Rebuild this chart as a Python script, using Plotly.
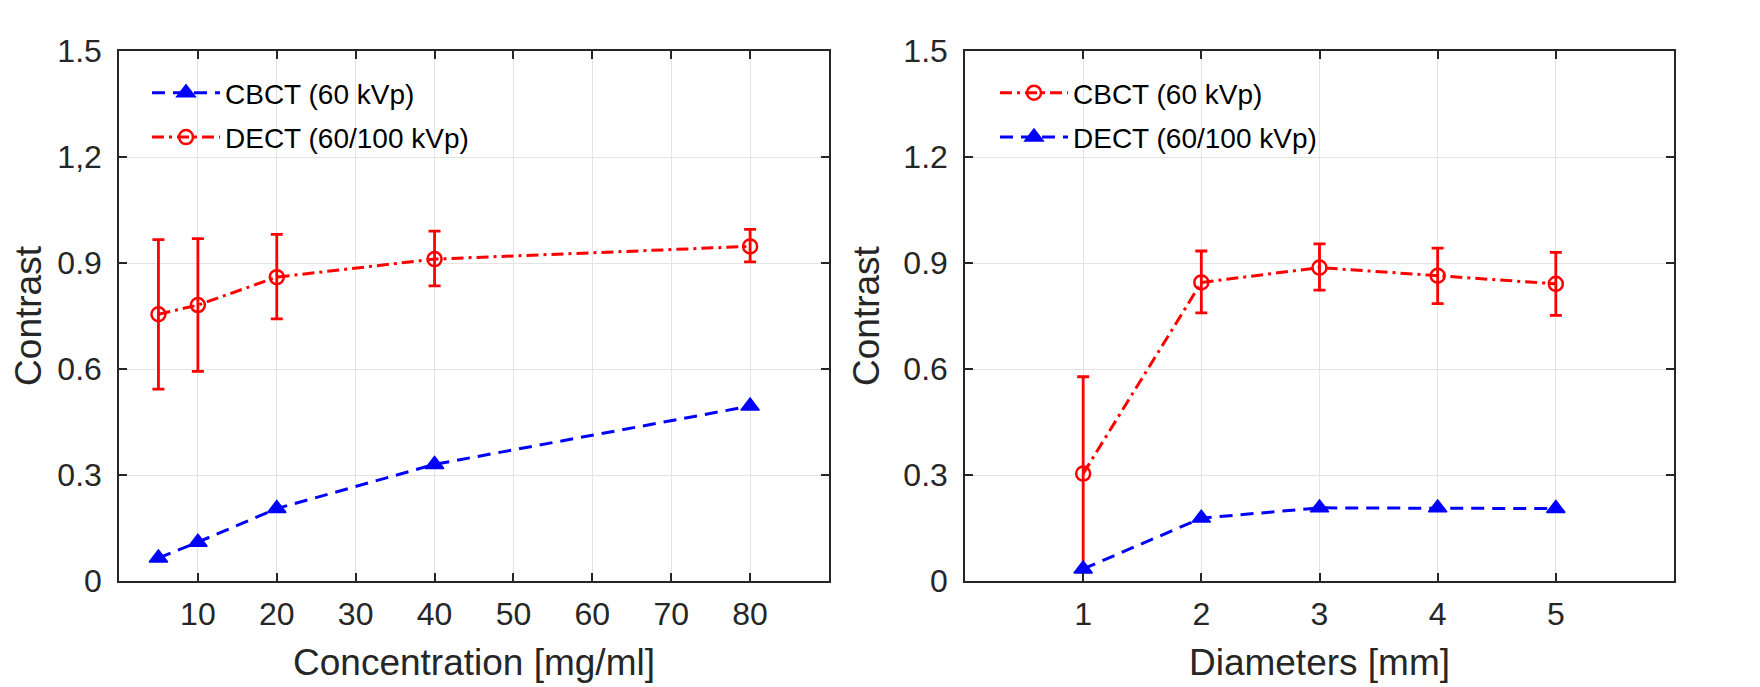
import plotly.graph_objects as go

# ---- data ----
conc = [5, 10, 20, 40, 80]
conc_cbct = [0.065, 0.11, 0.205, 0.33, 0.495]
conc_dect = [0.755, 0.781, 0.860, 0.911, 0.947]
conc_dect_hi = [0.966, 0.969, 0.981, 0.990, 0.995]
conc_dect_lo = [0.543, 0.593, 0.742, 0.835, 0.903]

diam = [1, 2, 3, 4, 5]
diam_cbct = [0.304, 0.845, 0.887, 0.864, 0.841]
diam_cbct_hi = [0.578, 0.934, 0.954, 0.942, 0.930]
diam_cbct_lo = [0.030, 0.759, 0.823, 0.785, 0.752]
diam_dect = [0.034, 0.178, 0.207, 0.207, 0.205]

yticks = [0, 0.3, 0.6, 0.9, 1.2, 1.5]
yticktext_left = ["0", "0.3", "0.6", "0.9", "1,2", "1.5"]
yticktext_right = ["0", "0.3", "0.6", "0.9", "1.2", "1.5"]
xticks_left = [10, 20, 30, 40, 50, 60, 70, 80]
xticks_right = [1, 2, 3, 4, 5]

RED = "#ff0000"
BLUE = "#0000ff"
AX = "#262626"
FONT = "Liberation Sans, Arial, sans-serif"

def err(center, hi, lo):
    return dict(type="data", symmetric=False,
                array=[h - c for h, c in zip(hi, center)],
                arrayminus=[c - l for c, l in zip(center, lo)],
                color=RED, thickness=2.8, width=6)

BLUE_LINE = dict(color=BLUE, width=3, dash="13px,8px")
RED_LINE = dict(color=RED, width=3, dash="12px,5px,3px,5px")
TRI = dict(symbol="triangle-up", size=16, color=BLUE, line=dict(color=BLUE, width=1.5))
CIRC = dict(symbol="circle-open", size=14, color=RED, line=dict(color=RED, width=2.5))

fig = go.Figure()

# left panel
fig.add_trace(go.Scatter(
    x=conc, y=conc_cbct, name="CBCT (60 kVp)", mode="lines+markers",
    line=BLUE_LINE, marker=TRI, xaxis="x", yaxis="y", legend="legend", legendgroup="a"))
fig.add_trace(go.Scatter(
    x=conc, y=conc_dect, name="DECT (60/100 kVp)", mode="lines+markers",
    line=RED_LINE, marker=CIRC, error_y=err(conc_dect, conc_dect_hi, conc_dect_lo),
    xaxis="x", yaxis="y", legend="legend", legendgroup="b"))

# right panel
fig.add_trace(go.Scatter(
    x=diam, y=diam_cbct, name="CBCT (60 kVp)", mode="lines+markers",
    line=RED_LINE, marker=CIRC, error_y=err(diam_cbct, diam_cbct_hi, diam_cbct_lo),
    xaxis="x2", yaxis="y2", legend="legend2", legendgroup="c"))
fig.add_trace(go.Scatter(
    x=diam, y=diam_dect, name="DECT (60/100 kVp)", mode="lines+markers",
    line=BLUE_LINE, marker=TRI, xaxis="x2", yaxis="y2", legend="legend2", legendgroup="d"))

axis_common = dict(
    showline=True, linecolor=AX, linewidth=1.5, mirror="ticks",
    ticks="inside", ticklen=8, tickwidth=1.5, tickcolor=AX,
    showgrid=True, gridcolor="#e3e3e3", gridwidth=1, zeroline=False,
    tickfont=dict(family=FONT, size=32, color=AX), automargin=False,
)
TITLE_FONT = dict(family=FONT, size=37, color=AX)

# page body adds an 8px offset; target screen frame: x 119..1674, y 51..581
OFF = 8
W, H = 1760, 687
ml, mt = 119 - OFF, 51 - OFF
mr = W - (1674 - OFF)
mb = H - (581 - OFF)
pw = W - ml - mr
ph = H - mt - mb
dom_left = [0, (829 - 119) / pw]
dom_right = [(965 - 119) / pw, 1]

leg_common = dict(xanchor="left", yanchor="top", bgcolor="rgba(0,0,0,0)", borderwidth=0,
                  itemwidth=68, font=dict(family=FONT, size=28, color="#000000"),
                  tracegroupgap=5, groupclick="toggleitem")

fig.update_layout(
    template="none",
    width=W, height=H,
    margin=dict(l=ml, r=mr, t=mt, b=mb),
    paper_bgcolor="white", plot_bgcolor="white",
    font=dict(family=FONT, color=AX),
    xaxis=dict(axis_common, domain=dom_left, range=[0, 90], tickvals=xticks_left,
               ticklabelstandoff=4, anchor="y",
               title=dict(text="Concentration [mg/ml]", font=TITLE_FONT, standoff=18)),
    yaxis=dict(axis_common, domain=[0, 1], range=[0, 1.5], tickvals=yticks, ticktext=yticktext_left,
               ticklabelstandoff=9, anchor="x",
               title=dict(text="Contrast", font=TITLE_FONT, standoff=12)),
    xaxis2=dict(axis_common, domain=dom_right, range=[0, 6], tickvals=xticks_right,
                ticklabelstandoff=4, anchor="y2",
                title=dict(text="Diameters [mm]", font=TITLE_FONT, standoff=18)),
    yaxis2=dict(axis_common, domain=[0, 1], range=[0, 1.5], tickvals=yticks, ticktext=yticktext_right,
                ticklabelstandoff=9, anchor="x2",
                title=dict(text="Contrast", font=TITLE_FONT, standoff=12)),
    legend=dict(leg_common, x=28 / pw, y=1 - 17 / ph),
    legend2=dict(leg_common, x=((965 - 119) + 30) / pw, y=1 - 17 / ph),
    showlegend=True,
)

fig.write_html("out.html")
